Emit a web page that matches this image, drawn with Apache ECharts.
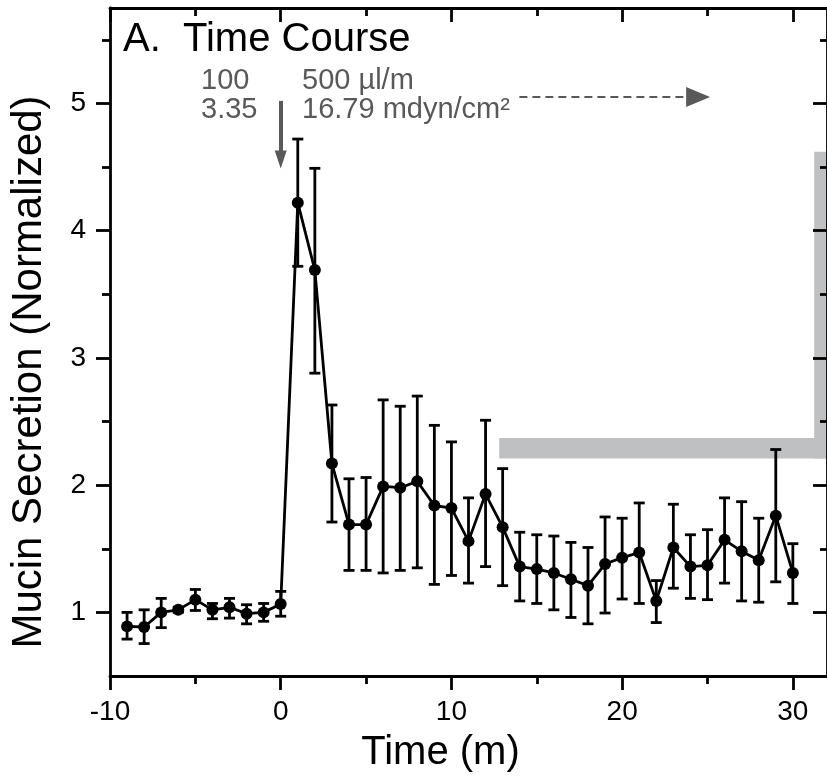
<!DOCTYPE html>
<html>
<head>
<meta charset="utf-8">
<script src="https://cdn.jsdelivr.net/npm/echarts@6/dist/echarts.min.js"></script>
<style>
  html, body { margin: 0; padding: 0; background: #fff; }
  #chart { width: 827px; height: 778px; }
</style>
</head>
<body>
<div id="chart"></div>
<script>
// time points (min) and normalized mucin secretion, mean with error bar ends
const times = [-9, -8, -7, -6, -5, -4, -3, -2, -1, 0,
  1, 2, 3, 4, 5, 6, 7, 8, 9, 10,
  11, 12, 13, 14, 15, 16, 17, 18, 19, 20,
  21, 22, 23, 24, 25, 26, 27, 28, 29, 30];
const means = [0.89, 0.885, 1.0, 1.02, 1.10, 1.02, 1.04, 0.99, 1.0, 1.065,
  4.22, 3.69, 2.17, 1.69, 1.69, 1.99, 1.98, 2.03, 1.84, 1.82,
  1.56, 1.93, 1.67, 1.36, 1.34, 1.31, 1.26, 1.21, 1.38, 1.43,
  1.47, 1.09, 1.51, 1.36, 1.37, 1.57, 1.48, 1.41, 1.76, 1.31];
const highs = [1.0, 1.02, 1.11, 1.04, 1.18, 1.07, 1.11, 1.06, 1.07, 1.165,
  4.72, 4.49, 2.63, 2.05, 2.06, 2.67, 2.62, 2.70, 2.47, 2.34,
  1.90, 2.51, 2.13, 1.63, 1.61, 1.60, 1.55, 1.51, 1.75, 1.74,
  1.86, 1.25, 1.85, 1.61, 1.65, 1.90, 1.87, 1.74, 2.28, 1.54];
const lows = [0.79, 0.755, 0.88, 1.0, 1.015, 0.95, 0.955, 0.91, 0.93, 0.97,
  3.72, 2.88, 1.71, 1.33, 1.33, 1.31, 1.33, 1.35, 1.22, 1.29,
  1.23, 1.36, 1.21, 1.09, 1.07, 1.02, 0.96, 0.91, 0.995, 1.105,
  1.07, 0.92, 1.19, 1.11, 1.10, 1.23, 1.09, 1.08, 1.24, 1.07];

const xMajor = [-10, 0, 10, 20, 30];
const xMinor = [-5, 5, 15, 25];
const yMajor = [1, 2, 3, 4, 5];
const yMinor = [1.5, 2.5, 3.5, 4.5, 5.5];

const FONT = 'Liberation Sans, Arial, Helvetica, sans-serif';
const GREY = '#595959';
const LW = 2.8;

const chart = echarts.init(document.getElementById('chart'));

const lineData = times.map((t, i) => [t, means[i]]);
const errData = times.map((t, i) => [t, lows[i], highs[i]]);

function renderErr(params, api) {
  const x = api.value(0);
  const lo = api.coord([x, api.value(1)]);
  const hi = api.coord([x, api.value(2)]);
  const hw = 5.5;
  const st = { stroke: '#000', lineWidth: LW };
  return {
    type: 'group',
    children: [
      { type: 'line', shape: { x1: hi[0], y1: hi[1], x2: lo[0], y2: lo[1] }, style: st },
      { type: 'line', shape: { x1: hi[0] - hw, y1: hi[1], x2: hi[0] + hw, y2: hi[1] }, style: st },
      { type: 'line', shape: { x1: lo[0] - hw, y1: lo[1], x2: lo[0] + hw, y2: lo[1] }, style: st },
    ],
  };
}

const axLine = { show: true, onZero: false, lineStyle: { color: '#000', width: LW } };
const noLine = { show: false, onZero: false };

function xAx(opts) {
  return Object.assign({
    type: 'value', min: -10, max: 32,
    splitLine: { show: false },
    axisLine: noLine,
    axisLabel: { show: false },
  }, opts);
}
function yAx(opts) {
  return Object.assign({
    type: 'value', min: 0.5, max: 5.75,
    splitLine: { show: false },
    axisLine: noLine,
    axisLabel: { show: false },
  }, opts);
}

const option = {
  animation: false,
  backgroundColor: '#fff',
  textStyle: { fontFamily: FONT },
  grid: { left: 110, top: 8, width: 720, height: 668, containLabel: false },
  xAxis: [
    xAx({
      position: 'bottom',
      axisLine: axLine,
      axisTick: { show: true, inside: false, length: 14, customValues: xMajor, lineStyle: { color: '#000', width: LW } },
      axisLabel: { show: true, customValues: xMajor, margin: 22, color: '#000', fontSize: 28, fontFamily: FONT },
      name: 'Time (m)', nameLocation: 'middle', nameGap: 57,
      nameTextStyle: { color: '#000', fontSize: 40, fontFamily: FONT, padding: [0, 56, 0, 0] },
    }),
    xAx({
      position: 'bottom',
      axisTick: { show: true, inside: false, length: 8, customValues: xMinor, lineStyle: { color: '#000', width: LW } },
    }),
    xAx({
      position: 'top',
      axisLine: axLine,
      axisTick: { show: true, inside: true, length: 14, customValues: xMajor, lineStyle: { color: '#000', width: LW } },
    }),
    xAx({
      position: 'top',
      axisTick: { show: true, inside: true, length: 8, customValues: xMinor, lineStyle: { color: '#000', width: LW } },
    }),
  ],
  yAxis: [
    yAx({
      position: 'left',
      axisLine: axLine,
      axisTick: { show: true, inside: false, length: 14, customValues: yMajor, lineStyle: { color: '#000', width: LW } },
      axisLabel: { show: true, customValues: yMajor, margin: 24, color: '#000', fontSize: 28, fontFamily: FONT },
      name: 'Mucin Secretion (Normalized)', nameLocation: 'middle', nameGap: 60, nameRotate: 90,
      nameTextStyle: { color: '#000', fontSize: 42, fontFamily: FONT, padding: [0, 60, 0, 0] },
    }),
    yAx({
      position: 'left',
      axisTick: { show: true, inside: false, length: 8, customValues: yMinor, lineStyle: { color: '#000', width: LW } },
    }),
    yAx({
      position: 'right', z: 10,
      axisLine: axLine,
      axisTick: { show: true, inside: true, length: 14, customValues: yMajor, lineStyle: { color: '#000', width: LW } },
    }),
    yAx({
      position: 'right', z: 10,
      axisTick: { show: true, inside: true, length: 7, customValues: yMinor, lineStyle: { color: '#000', width: LW } },
    }),
  ],
  graphic: [
    { type: 'text', x: 123, y: 40, style: { text: 'A.  Time Course', fontSize: 40, fontFamily: FONT, fill: '#000', verticalAlign: 'middle' } },
    { type: 'text', x: 201, y: 81, style: { text: '100', fontSize: 29, fontFamily: FONT, fill: GREY, verticalAlign: 'middle' } },
    { type: 'text', x: 201, y: 110, style: { text: '3.35', fontSize: 29, fontFamily: FONT, fill: GREY, verticalAlign: 'middle' } },
    { type: 'text', x: 302, y: 81, style: { text: '500 µl/m', fontSize: 29, fontFamily: FONT, fill: GREY, verticalAlign: 'middle' } },
    { type: 'text', x: 302, y: 110, style: { text: '16.79 mdyn/cm²', fontSize: 29, fontFamily: FONT, fill: GREY, verticalAlign: 'middle' } },
  ],
  series: [
    {
      type: 'custom',
      name: 'err',
      z: 3,
      renderItem: renderErr,
      encode: { x: 0, y: [1, 2] },
      data: errData,
      markArea: {
        silent: true,
        z: 0,
        itemStyle: { color: '#bfc0c2' },
        label: { show: false },
        data: [
          [{ coord: [12.8, 2.21] }, { coord: [32, 2.37] }],
          [{ coord: [31.25, 2.21] }, { coord: [32, 4.62] }],
        ],
      },
    },
    {
      type: 'line',
      name: 'mean',
      z: 4,
      data: lineData,
      symbol: 'circle',
      symbolSize: 12,
      itemStyle: { color: '#000' },
      lineStyle: { color: '#000', width: LW },
      markLine: {
        silent: true,
        label: { show: false },
        symbol: ['none', 'triangle'],
        data: [
          [
            { coord: [0, 5.02], lineStyle: { color: GREY, width: 4, type: 'solid' }, symbol: 'none' },
            { coord: [0, 4.56], symbol: 'triangle', symbolSize: [12, 18] },
          ],
          [
            { coord: [13.98, 5.05], lineStyle: { color: GREY, width: 2.2, type: [8, 5] }, symbol: 'none' },
            { coord: [24.45, 5.05], symbol: 'triangle', symbolSize: [20, 24] },
          ],
        ],
        itemStyle: { color: GREY },
      },
    },
  ],
};

chart.setOption(option);
</script>
</body>
</html>
